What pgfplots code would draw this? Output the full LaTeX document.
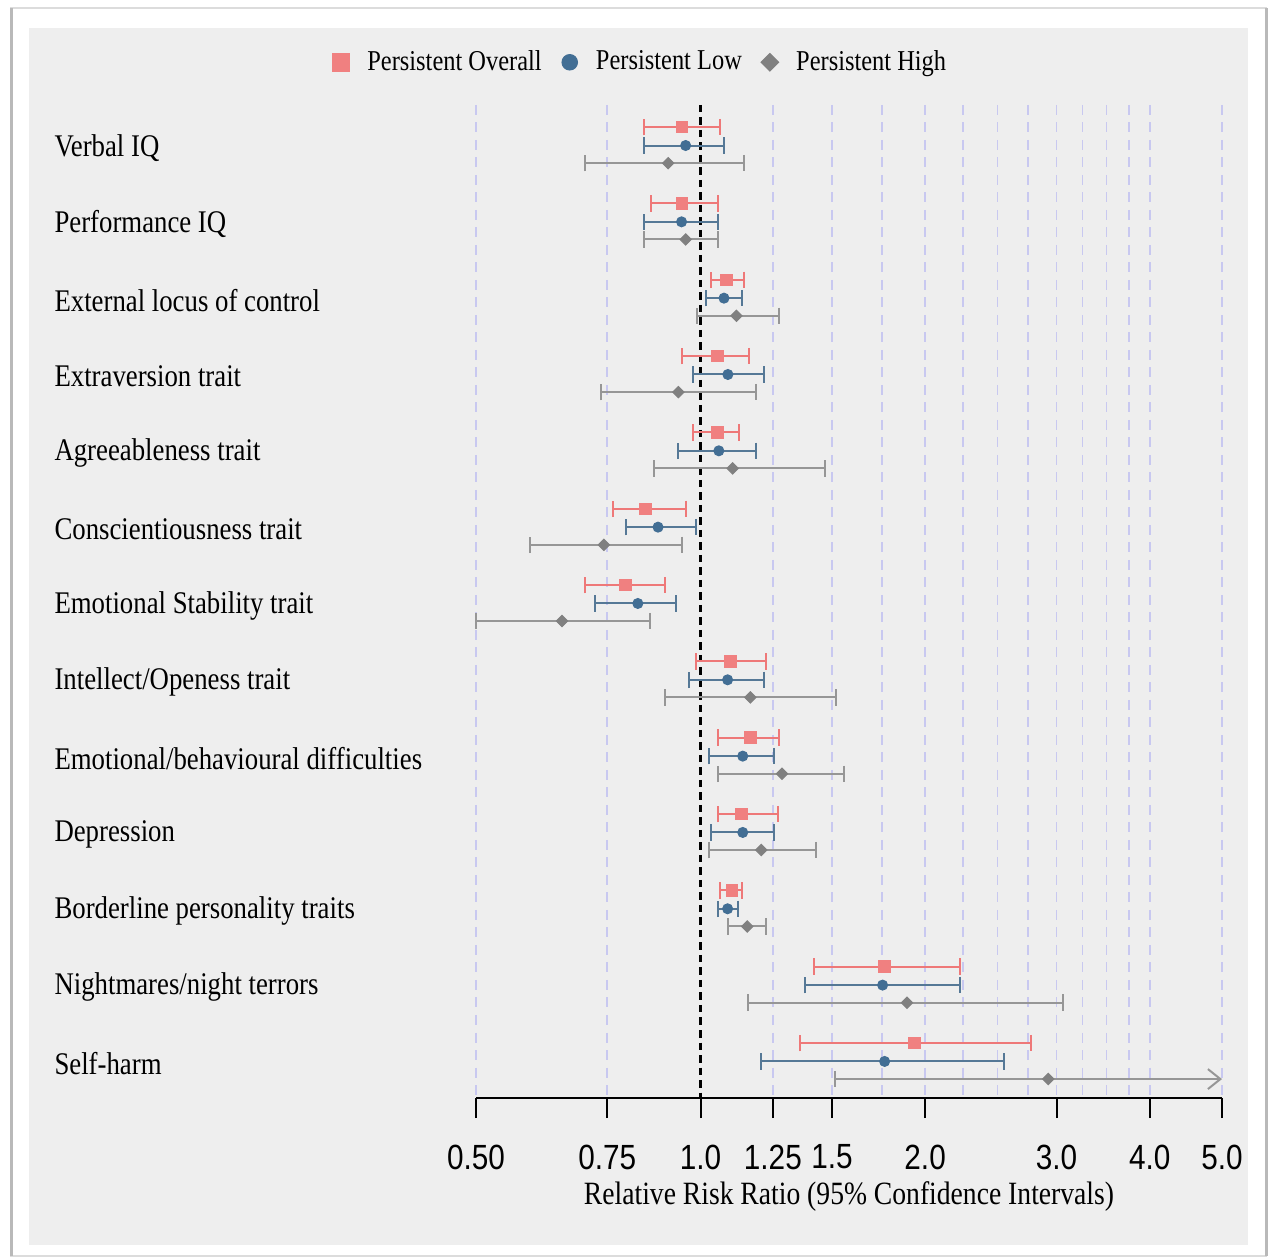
\documentclass[border=0pt]{standalone}
\usepackage{pgfplots}
\pgfplotsset{compat=1.18}
\usepackage{pgfplotstable}
\usepackage{fontspec}
\setmainfont{Liberation Serif}[FakeStretch=0.85]
\newfontfamily\sansf{Liberation Sans}[FakeStretch=0.85]
\usetikzlibrary{arrows.meta}
\definecolor{panel}{RGB}{238,238,238}
\definecolor{ovm}{RGB}{240,128,128}
\definecolor{ovl}{RGB}{238,120,120}
\definecolor{lom}{RGB}{66,110,148}
\definecolor{lol}{RGB}{85,120,150}
\definecolor{him}{RGB}{128,128,128}
\definecolor{hil}{RGB}{150,150,150}
\definecolor{gridc}{RGB}{200,200,240}
\definecolor{frl}{RGB}{220,220,220}
\definecolor{frd}{RGB}{185,185,185}

\pgfplotstableread{
y est lo hi
0 0.945 0.841 1.062
1 0.945 0.857 1.056
2 1.084 1.033 1.145
3 1.053 0.943 1.162
4 1.053 0.976 1.125
5 0.844 0.764 0.955
6 0.793 0.701 0.896
7 1.096 0.986 1.224
8 1.167 1.056 1.275
9 1.134 1.056 1.269
10 1.102 1.062 1.137
11 1.765 1.420 2.225
12 1.937 1.358 2.775
}\overall

\pgfplotstableread{
y est lo hi
0 0.955 0.841 1.075
1 0.943 0.841 1.056
2 1.075 1.016 1.137
3 1.088 0.976 1.217
4 1.058 0.933 1.185
5 0.877 0.794 0.986
6 0.824 0.722 0.927
7 1.087 0.965 1.216
8 1.139 1.027 1.253
9 1.139 1.033 1.253
10 1.087 1.056 1.123
11 1.754 1.382 2.225
12 1.765 1.204 2.551
}\low

\pgfplotstableread{
y est lo hi
0 0.905 0.701 1.145
1 0.955 0.841 1.056
2 1.117 0.988 1.275
3 0.934 0.735 1.185
4 1.104 0.866 1.469
5 0.742 0.591 0.943
6 0.652 0.500 0.855
7 1.166 0.896 1.520
8 1.286 1.056 1.557
9 1.206 1.027 1.429
10 1.155 1.088 1.223
11 1.891 1.157 3.058
}\high

\begin{document}
\begin{tikzpicture}
\begin{scope}[x=0.4pt,y=0.4pt]
\fill[white] (0,0) rectangle (1275,1259);
\draw[draw=frl, line width=0.5pt] (11,3) rectangle (1266,1251);
\draw[draw=frd, line width=1.2pt] (11,3) -- (11,1251);
\draw[draw=frd, line width=1.2pt] (1266,3) -- (1266,1251);
\fill[panel] (29,14) rectangle (1248,1231);
\end{scope}
\begin{axis}[
  at={(190.4pt,64.4pt)}, anchor=south west,
  scale only axis, width=298.4pt, height=397.2pt,
  xmode=log, xmin=0.5, xmax=5.0,
  y dir=reverse, ymin=-0.29, ymax=12.72,
  clip=false,
  axis x line*=bottom, axis y line*=left,
  y axis line style={draw=none},
  x axis line style={line width=0.8pt},
  xtick={0.5,0.75,1,1.25,1.5,2,3,4,5},
  xticklabels={0.50,0.75,1.0,1.25,1.5,2.0,3.0,4.0,5.0},
  minor xtick={0.5,0.75,1.25,1.5,1.75,2,2.25,2.5,2.75,3,3.25,3.5,3.75,4,5},
  xminorgrids=true,
  minor grid style={gridc, line width=0.7pt, dash pattern=on 4pt off 3pt},
  minor tick length=0pt,
  tick align=outside,
  major tick length=8pt,
  x tick style={line width=0.8pt, black},
  ytick={0.27,1.27,2.27,3.27,4.27,5.27,6.27,7.27,8.27,9.27,10.27,11.27,12.27},
  yticklabels={Verbal IQ, Performance IQ, External locus of control, Extraversion trait, Agreeableness trait, Conscientiousness trait, Emotional Stability trait, Intellect/Openess trait, Emotional/behavioural difficulties, Depression, Borderline personality traits, Nightmares/night terrors, Self-harm},
  y tick style={draw=none},
  yticklabel style={anchor=west, inner xsep=0pt, xshift=-160.8pt, font=\fontsize{12.6}{14}\selectfont},
  xticklabel style={font=\sansf\fontsize{14}{16}\selectfont, yshift=-7.2pt},
  xlabel={Relative Risk Ratio (95\% Confidence Intervals)},
  xlabel style={at={(axis description cs:0.5,-0.099)}, anchor=center, font=\fontsize{13}{15}\selectfont},
  legend columns=3,
  legend style={at={(axis description cs:0.216,1.043)}, anchor=center, draw=none, fill=none,
    font=\fontsize{11.5}{13}\selectfont, /tikz/every even column/.append style={column sep=2pt}},
  legend image code/.code={\draw[#1, every mark/.append style={scale=1.55}] plot coordinates {(0pt,0pt)}; \path (-7pt,0pt) (8.3pt,0pt);},
]
\addplot[forget plot, black, line width=1.2pt, dash pattern=on 3pt off 2pt] coordinates {(1,-0.29) (1,12.72)};

\addplot[only marks, mark=square*, mark size=2.3pt, color=ovm,
  error bars/.cd, x dir=both, x explicit, error mark=|,
  error bar style={line width=0.8pt, color=ovl},
  error mark options={line width=0.8pt, mark size=3.3pt, color=ovl}]
  table[x=est, y=y, x error plus expr=\thisrow{hi}-\thisrow{est}, x error minus expr=\thisrow{est}-\thisrow{lo}] {\overall};
\addlegendentry{Persistent Overall}

\addplot[only marks, mark=*, mark size=2pt, color=lom,
  error bars/.cd, x dir=both, x explicit, error mark=|,
  error bar style={line width=0.8pt, color=lol},
  error mark options={line width=0.8pt, mark size=3.3pt, color=lol}]
  table[x=est, y expr=\thisrow{y}+0.241, x error plus expr=\thisrow{hi}-\thisrow{est}, x error minus expr=\thisrow{est}-\thisrow{lo}] {\low};
\addlegendentry{Persistent Low}

\addplot[only marks, mark=square*, mark options={rotate=45}, mark size=1.6pt, color=him,
  error bars/.cd, x dir=both, x explicit, error mark=|,
  error bar style={line width=0.8pt, color=hil},
  error mark options={line width=0.8pt, mark size=3.3pt, color=hil}]
  table[x=est, y expr=\thisrow{y}+0.472, x error plus expr=\thisrow{hi}-\thisrow{est}, x error minus expr=\thisrow{est}-\thisrow{lo}] {\high};
\addlegendentry{Persistent High}

\addplot[forget plot, hil, line width=0.8pt, -{Straight Barb[length=5pt,width=8pt]}] coordinates {(1.513,12.472) (5.0,12.472)};
\addplot[forget plot, only marks, mark=|, mark size=3.3pt, hil, line width=0.8pt] coordinates {(1.513,12.472)};
\addplot[forget plot, only marks, mark=square*, mark options={rotate=45}, mark size=1.6pt, color=him] coordinates {(2.925,12.472)};
\end{axis}
\end{tikzpicture}
\end{document}
